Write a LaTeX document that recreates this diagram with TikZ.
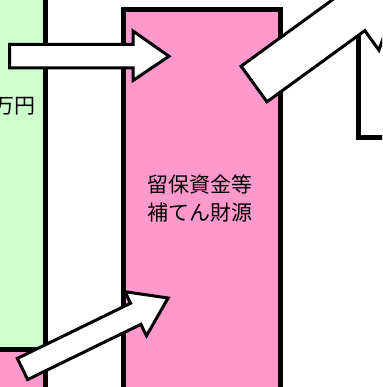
\documentclass[tikz,border=0pt]{standalone}
\usepackage{fontspec}
\newfontfamily\jp{Noto Sans CJK JP}
\definecolor{pgreen}{HTML}{CCFFCC}
\definecolor{ppink}{HTML}{FF99CC}
\begin{document}
\begin{tikzpicture}[x=1pt,y=-1pt,
  box/.style={line width=5pt},
  blockarrow/.style={fill=white,draw=black,line width=3pt,line join=miter},
  jptext/.style={font=\jp\fontsize{21}{28}\selectfont, inner sep=0pt, text=black}]
\useasboundingbox (0,0) rectangle (382,387);
\clip (0,0) rectangle (382,387);
\fill[white] (0,0) rectangle (382,387);
% boxes
\filldraw[box, fill=pgreen] (-10,-10) rectangle (45.5,349.5);
\filldraw[box, fill=ppink] (-10,349.5) rectangle (45.5,400);
\filldraw[box, fill=ppink] (123.5,9.5) rectangle (280.5,400);
\filldraw[box, fill=white] (358.5,-10) rectangle (400,137.5);
% texts
\node[jptext, align=center] (fund) at (200,198) {留保資金等\\補てん財源};
\node[jptext, anchor=east] (yen) at (36,106) {万円};
% horizontal arrow
\filldraw[blockarrow] (9.5,44.5) -- (133,44.5) -- (133,31) -- (169,56.25) -- (133,80.5) -- (133,68) -- (9.5,68) -- cycle;
% top right arrow
\begin{scope}[shift={(254,84)}, rotate=36]
\filldraw[blockarrow] (0,-22) -- (121,-22) -- (121,-46) -- (188,0) -- (121,46) -- (121,22) -- (0,22) -- cycle;
\end{scope}
% bottom arrow
\begin{scope}[shift={(22.5,369)}, rotate=26]
\filldraw[blockarrow] (0,-11.75) -- (126,-11.75) -- (126,-24.5) -- (162,0) -- (126,24.5) -- (126,11.75) -- (0,11.75) -- cycle;
\end{scope}
\end{tikzpicture}
\end{document}
